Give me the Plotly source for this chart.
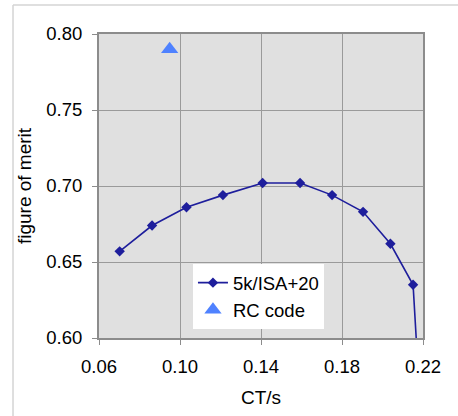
import plotly.graph_objects as go

# Data
ct_s = [0.0702, 0.0862, 0.1032, 0.1212, 0.1408, 0.1593, 0.1751, 0.1904, 0.2039, 0.2151, 0.2184]
fom = [0.657, 0.674, 0.686, 0.694, 0.702, 0.702, 0.694, 0.683, 0.662, 0.635, 0.560]
rc_ct = [0.0949]
rc_fom = [0.790]

series_names = ["5k/ISA+20", "RC code"]
x_ticks = [0.06, 0.10, 0.14, 0.18, 0.22]
y_ticks = [0.60, 0.65, 0.70, 0.75, 0.80]

FONT = "Liberation Sans, Arial, Helvetica, sans-serif"

fig = go.Figure()
fig.add_trace(go.Scatter(
    x=ct_s, y=fom, mode="lines+markers", name=series_names[0],
    line=dict(color="#1E1E9C", width=1.6),
    marker=dict(symbol="diamond", size=8, color="#1E1E9C"),
))
fig.add_trace(go.Scatter(
    x=rc_ct, y=rc_fom, mode="markers", name=series_names[1],
    marker=dict(symbol="triangle-up", size=15, color="#4F82FF"),
))

axis_common = dict(
    showgrid=True, gridcolor="#9A9A9A", gridwidth=1,
    showline=True, linecolor="#8C8C8C", linewidth=2, mirror=True,
    ticks="outside", ticklen=5, tickcolor="#8C8C8C", tickwidth=1,
    tickfont=dict(family=FONT, size=18.5, color="#000000"),
    zeroline=False, tickformat=".2f",
)

fig.update_layout(
    width=458, height=416,
    margin=dict(l=99, r=35, t=34, b=78),
    paper_bgcolor="#FFFFFF",
    plot_bgcolor="#E0E0E0",
    font=dict(family=FONT, size=18, color="#000000"),
    xaxis=dict(range=[0.06, 0.22], tickvals=x_ticks, ticklabelstandoff=6,
               title=dict(text="CT/s", font=dict(family=FONT, size=19), standoff=14),
               **axis_common),
    yaxis=dict(range=[0.60, 0.80], tickvals=y_ticks, ticklabelstandoff=6,
               title=dict(text="figure of merit", font=dict(family=FONT, size=19), standoff=10),
               **axis_common),
    legend=dict(x=0.29, y=0.243, xanchor="left", yanchor="top",
                bgcolor="#FFFFFF", borderwidth=0,
                font=dict(family=FONT, size=18.5),
                itemwidth=30, tracegroupgap=0),
    showlegend=True,
    shapes=[
        dict(type="line", xref="paper", yref="paper",
             x0=-0.2654, x1=1.12, y0=1.0954, y1=1.0954,
             line=dict(color="#D4D4D4", width=1.5)),
        dict(type="line", xref="paper", yref="paper",
             x0=-0.2654, x1=-0.2654, y0=1.0954, y1=-0.26,
             line=dict(color="#D4D4D4", width=1.5)),
    ],
)

fig.write_html("out.html")
